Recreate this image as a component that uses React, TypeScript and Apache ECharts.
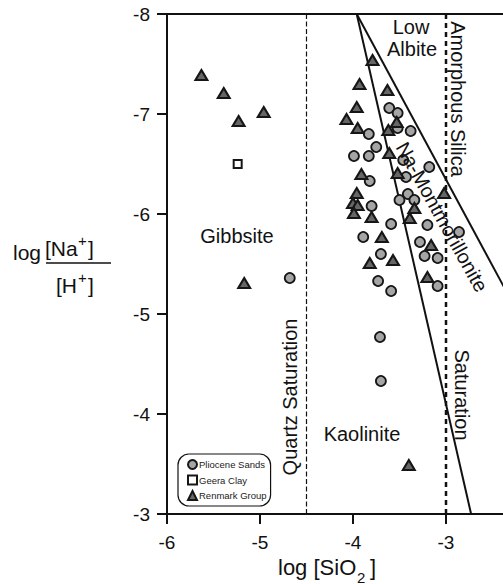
import React, { useEffect, useRef } from "react";
import * as echarts from "echarts";

const FONT = '"Liberation Sans", Arial, Helvetica, sans-serif';

// log[SiO2], log([Na+]/[H+])
const plioceneSands: [number, number][] = [
  [-3.61, -7.06], [-3.52, -7.01], [-3.52, -6.86], [-3.38, -6.83], [-3.83, -6.8],
  [-3.75, -6.67], [-3.99, -6.58], [-3.83, -6.58], [-3.46, -6.54], [-3.18, -6.47],
  [-3.82, -6.33], [-3.43, -6.37], [-3.8, -6.08], [-3.41, -6.2], [-3.34, -6.14],
  [-3.5, -6.14], [-3.59, -5.9], [-3.2, -5.89], [-3.89, -5.77], [-3.28, -5.72],
  [-3.7, -5.6], [-3.23, -5.58], [-3.09, -5.56], [-2.86, -5.82], [-3.09, -5.28],
  [-3.73, -5.33], [-3.59, -5.23], [-3.71, -4.77], [-3.7, -4.33], [-4.68, -5.36],
];
const geeraClay: [number, number][] = [[-5.24, -6.5]];
const renmarkGroup: [number, number][] = [
  [-5.63, -7.39], [-5.39, -7.21], [-4.96, -7.02], [-5.23, -6.93], [-5.17, -5.31],
  [-3.79, -7.54], [-3.93, -7.3], [-3.63, -7.24], [-3.96, -7.07], [-4.07, -6.95],
  [-3.95, -6.86], [-3.62, -6.84], [-3.53, -6.92], [-3.61, -6.61], [-3.91, -6.4],
  [-3.52, -6.41], [-3.96, -6.21], [-4.0, -6.11], [-3.95, -6.09], [-3.99, -6.01],
  [-3.8, -5.97], [-3.34, -6.06], [-3.39, -5.96], [-3.02, -6.21], [-3.69, -5.77],
  [-3.16, -5.69], [-3.57, -5.54], [-3.82, -5.51], [-3.2, -5.37], [-3.4, -3.49],
];
const kaoliniteBoundary: [number, number][] = [[-3.96, -8], [-2.73, -3]];
const albiteBoundary: [number, number][] = [[-3.96, -8], [-2.0, -4.62]];
const quartzSaturation: [number, number][] = [[-4.5, -8], [-4.5, -3]];
const amorphousSaturation: [number, number][] = [[-3, -8], [-3, -3]];

const X_MIN = -6, X_MAX = -2, Y_MIN = -8, Y_MAX = -3;

function txt(text: string, x: number, y: number, size: number, opts: any = {}) {
  return {
    type: "text",
    x,
    y,
    rotation: opts.rotation || 0,
    z: 10,
    style: {
      text,
      fill: "#111",
      font: `${size}px ${FONT}`,
      textAlign: opts.align || "center",
      textVerticalAlign: "middle",
    },
  };
}

export default function App() {
  const ref = useRef<HTMLDivElement>(null);
  useEffect(() => {
    document.body.style.margin = "0";
    const chart = echarts.init(ref.current!, null, { renderer: "svg" });
    const boundary = (data: [number, number][], style: any) => ({
      type: "line",
      data,
      symbol: "none",
      silent: true,
      lineStyle: { color: "#111", ...style },
      z: 1,
    });
    chart.setOption({
      animation: false,
      backgroundColor: "#fff",
      grid: {
        left: 167, top: 14, width: 372, height: 500,
        containLabel: false, outerBoundsMode: "none",
        show: true, borderColor: "#111", borderWidth: 2,
      },
      xAxis: {
        type: "value", min: X_MIN, max: X_MAX, interval: 1,
        splitLine: { show: false },
        axisLine: { lineStyle: { color: "#111", width: 2 } },
        axisTick: { length: 10, lineStyle: { color: "#111", width: 2 } },
        axisLabel: { color: "#111", fontSize: 19, fontFamily: FONT, margin: 19, showMaxLabel: false },
      },
      yAxis: {
        type: "value", min: Y_MIN, max: Y_MAX, interval: 1, inverse: true,
        splitLine: { show: false },
        axisLine: { lineStyle: { color: "#111", width: 2 } },
        axisTick: { length: 10, lineStyle: { color: "#111", width: 2 } },
        axisLabel: { color: "#111", fontSize: 19, fontFamily: FONT, margin: 17 },
      },
      legend: {
        orient: "vertical",
        left: 178, top: 454,
        padding: [5, 4, 5, 9],
        borderColor: "#111", borderWidth: 1.2, borderRadius: 11,
        itemWidth: 9, itemHeight: 9, itemGap: 4.5,
        textStyle: { fontSize: 9.5, fontFamily: FONT, color: "#222", padding: [0, 0, 0, -3] },
        data: ["Pliocene Sands", "Geera Clay", "Renmark Group"],
        selectedMode: false,
      },
      series: [
        boundary(kaoliniteBoundary, { width: 2 }),
        boundary(albiteBoundary, { width: 2 }),
        boundary(quartzSaturation, { width: 1.2, type: [5, 2.5] }),
        boundary(amorphousSaturation, { width: 2.5, type: [5, 4] }),
        {
          name: "Pliocene Sands", type: "scatter", data: plioceneSands,
          symbol: "circle", symbolSize: 10, z: 5,
          itemStyle: { color: "#a5a5a5", borderColor: "#161616", borderWidth: 1.8, opacity: 1 },
        },
        {
          name: "Geera Clay", type: "scatter", data: geeraClay,
          symbol: "rect", symbolSize: 8, z: 5,
          itemStyle: { color: "#fff", borderColor: "#161616", borderWidth: 2, opacity: 1 },
        },
        {
          name: "Renmark Group", type: "scatter", data: renmarkGroup,
          symbol: "triangle", symbolSize: [12, 10], z: 5,
          itemStyle: { color: "#666", borderColor: "#161616", borderWidth: 2, opacity: 1 },
        },
      ],
      graphic: [
        txt("Gibbsite", 237, 236, 20),
        txt("Kaolinite", 362, 434, 20),
        txt("Low", 411, 27, 20),
        txt("Albite", 412, 49, 20),
        txt("Amorphous Silica", 458, 99, 20, { rotation: -Math.PI / 2 }),
        txt("Saturation", 462, 395, 20, { rotation: -Math.PI / 2 }),
        txt("Quartz Saturation", 290, 397, 20, { rotation: Math.PI / 2 }),
        txt("Na-Montmorillonite", 442, 217, 20, { rotation: -1.065 }),
        // x axis title
        txt("log [SiO", 278, 567, 22, { align: "left" }),
        txt("2", 357, 577, 15, { align: "left" }),
        txt("]", 370, 567, 22, { align: "left" }),
        // y axis title
        txt("log", 13, 252, 21, { align: "left" }),
        txt("[Na", 45, 248, 21, { align: "left" }),
        txt("+", 78, 240, 15, { align: "left" }),
        txt("]", 88, 248, 21, { align: "left" }),
        {
          type: "line",
          shape: { x1: 46, y1: 263, x2: 111, y2: 263 },
          style: { stroke: "#111", lineWidth: 1.5 },
        },
        txt("[H", 56, 285, 21, { align: "left" }),
        txt("+", 78, 277, 15, { align: "left" }),
        txt("]", 88, 285, 21, { align: "left" }),
      ],
    });
    return () => chart.dispose();
  }, []);
  return <div ref={ref} style={{ width: 503, height: 584 }} />;
}
